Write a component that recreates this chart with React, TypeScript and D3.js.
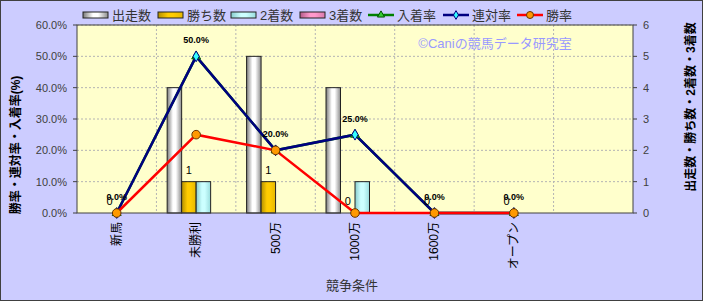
import React from "react";
import * as d3 from "d3";

const categories = ["新馬", "未勝利", "500万", "1000万", "1600万", "オープン", ""];
const barSeries = ["出走数", "勝ち数", "2着数", "3着数"];
const runs = [0, 4, 5, 4, 0, 0];
const wins = [0, 1, 1, 0, 0, 0];
const seconds = [0, 1, 0, 1, 0, 0];
const thirds = [0, 0, 0, 0, 0, 0];
const placeRate = [0, 50, 20, 25, 0, 0];
const rentaiRate = [0, 50, 20, 25, 0, 0];
const winRate = [0, 25, 20, 0, 0, 0];
const leftTicks = [0, 10, 20, 30, 40, 50, 60];
const rightTicks = [0, 1, 2, 3, 4, 5, 6];

const W = 703, H = 301;
const PL = 77, PR = 633, PT = 25, PB = 213;
const FONT = "'Liberation Sans', 'Noto Sans CJK JP', sans-serif";

const barGrad = [
  { id: "g0", stops: ["#7a7a7a", "#ffffff", "#8c8c8c"] },
  { id: "g1", stops: ["#b38f00", "#ffcc00", "#e6b800"] },
  { id: "g2", stops: ["#88cccc", "#ccffff", "#99dddd"] },
  { id: "g3", stops: ["#b35c88", "#ff99cc", "#d97aab"] },
];

export default function App() {
  const x = d3.scaleBand<string>().domain(categories).range([PL, PR]).padding(0);
  const yL = d3.scaleLinear().domain([0, 60]).range([PB, PT]);
  const yR = d3.scaleLinear().domain([0, 6]).range([PB, PT]);
  const bw = x.bandwidth();
  const xs = d3.scaleBand<string>().domain(barSeries).range([0, bw * 0.73]).padding(0);
  const groupW = bw * 0.73;
  const cx = (i: number) => (x(categories[i]) as number) + bw / 2;
  const barData = [runs, wins, seconds, thirds];
  const line = d3.line<number>().x((_, i) => cx(i)).y((d) => yL(d));

  const diamond = d3.symbol().type(d3.symbolDiamond).size(34)() as string;
  const triangle = d3.symbol().type(d3.symbolTriangle).size(34)() as string;
  const diamondS = d3.symbol().type(d3.symbolDiamond).size(22)() as string;
  const triangleS = d3.symbol().type(d3.symbolTriangle).size(22)() as string;

  const legendItems = [
    { t: "出走数", x: 83, kind: "bar", g: "g0" },
    { t: "勝ち数", x: 158, kind: "bar", g: "g1" },
    { t: "2着数", x: 231, kind: "bar", g: "g2" },
    { t: "3着数", x: 300, kind: "bar", g: "g3" },
    { t: "入着率", x: 368, kind: "line", c: "#008000", m: "tri" },
    { t: "連対率", x: 443, kind: "line", c: "#000080", m: "dia" },
    { t: "勝率", x: 517, kind: "line", c: "#ff0000", m: "cir" },
  ];

  const marker = (m: string, px: number, py: number, key: string, small = false) => {
    if (m === "tri")
      return <path key={key} d={small ? triangleS : triangle} transform={`translate(${px},${py})`} fill="#33cc33" stroke="#005500" strokeWidth={1} />;
    if (m === "dia")
      return <path key={key} d={small ? diamondS : diamond} transform={`translate(${px},${py})`} fill="#33ffff" stroke="#000080" strokeWidth={1} />;
    return <circle key={key} cx={px} cy={py} r={small ? 3.5 : 4.3} fill="#ff9900" stroke="#663300" strokeWidth={1} />;
  };

  return (
    <svg width={W} height={H} style={{ position: "absolute", left: 0, top: 0 }} fontFamily={FONT}>
      <defs>
        {barGrad.map((g) => (
          <linearGradient key={g.id} id={g.id} x1="0" x2="1" y1="0" y2="0">
            <stop offset="0" stopColor={g.stops[0]} />
            <stop offset="0.4" stopColor={g.stops[1]} />
            <stop offset="0.6" stopColor={g.stops[1]} />
            <stop offset="1" stopColor={g.stops[2]} />
          </linearGradient>
        ))}
      </defs>
      <rect x={0.5} y={0.5} width={W - 1} height={H - 1} fill="#ccccff" stroke="#404040" strokeWidth={1} />
      <rect x={PL} y={PT} width={PR - PL} height={PB - PT} fill="#ffffcc" />
      {/* grid */}
      {leftTicks.slice(1).map((t) => (
        <line key={"h" + t} x1={PL} x2={PR} y1={yL(t)} y2={yL(t)} stroke="#b4b4b4" strokeDasharray="2,2" strokeWidth={1} />
      ))}
      {categories.slice(1).map((c) => (
        <line key={"v" + c} x1={x(c) as number} x2={x(c) as number} y1={PT} y2={PB} stroke="#b4b4b4" strokeDasharray="2,2" strokeWidth={1} />
      ))}
      {/* watermark */}
      <text x={495} y={48} textAnchor="middle" fontSize={13} fill="#9999ff">©Caniの競馬データ研究室</text>
      {/* bars */}
      {barData.map((arr, si) =>
        arr.map((v, i) =>
          v > 0 ? (
            <rect
              key={`b${si}-${i}`}
              x={cx(i) - groupW / 2 + (xs(barSeries[si]) as number)}
              y={yR(v)}
              width={xs.bandwidth()}
              height={yR(0) - yR(v)}
              fill={`url(#${barGrad[si].id})`}
              stroke="#222"
              strokeWidth={1}
            />
          ) : null
        )
      )}
      {/* plot border */}
      <rect x={PL} y={PT} width={PR - PL} height={PB - PT} fill="none" stroke="#404040" strokeWidth={1} />
      {/* lines */}
      <path d={line(placeRate) as string} fill="none" stroke="#008000" strokeWidth={2.5} />
      <path d={line(rentaiRate) as string} fill="none" stroke="#000080" strokeWidth={2.5} />
      <path d={line(winRate) as string} fill="none" stroke="#ff0000" strokeWidth={2.5} />
      {placeRate.map((v, i) => marker("tri", cx(i), yL(v), "mt" + i))}
      {rentaiRate.map((v, i) => marker("dia", cx(i), yL(v), "md" + i))}
      {winRate.map((v, i) => marker("cir", cx(i), yL(v), "mc" + i))}
      {/* win count labels */}
      {wins.map((v, i) => (
        <text key={"wl" + i} x={cx(i) - groupW / 2 + (xs("勝ち数") as number) + xs.bandwidth() / 2} y={yR(v) - 8} textAnchor="middle" fontSize={11} fill="#000">{v}</text>
      ))}
      {/* rate labels */}
      {rentaiRate.map((v, i) => (
        <text key={"rl" + i} x={cx(i)} y={yL(v) - 13} textAnchor="middle" fontSize={9} fontWeight="bold" fill="#000">{v.toFixed(1)}%</text>
      ))}
      {/* left axis */}
      {leftTicks.map((t) => (
        <g key={"lt" + t}>
          <line x1={PL - 4} x2={PL} y1={yL(t)} y2={yL(t)} stroke="#404040" />
          <text x={PL - 10} y={yL(t) + 4} textAnchor="end" fontSize={11} fill="#404040">{t.toFixed(1)}%</text>
        </g>
      ))}
      {/* right axis */}
      {rightTicks.map((t) => (
        <g key={"rt" + t}>
          <line x1={PR} x2={PR + 4} y1={yR(t)} y2={yR(t)} stroke="#404040" />
          <text x={PR + 13} y={yR(t) + 4} textAnchor="middle" fontSize={11} fill="#404040">{t}</text>
        </g>
      ))}
      {/* x tick labels */}
      {categories.slice(0, 6).map((c, i) => (
        <text key={"xt" + c} transform={`translate(${cx(i) + 4},${PB + 9}) rotate(-90)`} textAnchor="end" fontSize={12} fill="#000">{c}</text>
      ))}
      {/* axis titles */}
      <text x={352} y={290} textAnchor="middle" fontSize={13} fill="#333">競争条件</text>
      <text transform={`translate(20,145) rotate(-90)`} textAnchor="middle" fontSize={12} fontWeight="bold" fill="#000">勝率・連対率・入着率(%)</text>
      <text transform={`translate(695,107) rotate(-90)`} textAnchor="middle" fontSize={12} fontWeight="bold" fill="#000">出走数・勝ち数・2着数・3着数</text>
      {/* legend */}
      {legendItems.map((it) => (
        <g key={"lg" + it.t}>
          {it.kind === "bar" ? (
            <rect x={it.x} y={12} width={25} height={6} fill={`url(#${it.g})`} stroke="#222" strokeWidth={1} />
          ) : (
            <g>
              <line x1={it.x} x2={it.x + 26} y1={15} y2={15} stroke={it.c} strokeWidth={2.5} />
              {marker(it.m as string, it.x + 13, 15, "lm" + it.t, true)}
            </g>
          )}
          <text x={it.x + 29} y={20} fontSize={13} fill="#333">{it.t}</text>
        </g>
      ))}
    </svg>
  );
}
